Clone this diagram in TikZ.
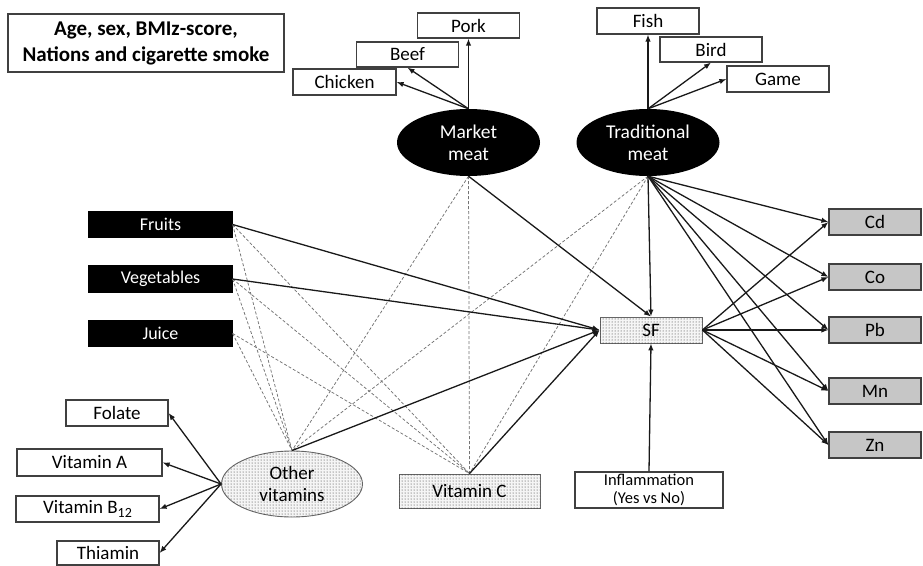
\documentclass[tikz,border=0pt]{standalone}
\usepackage{fontspec}
\setmainfont{Carlito}
\usetikzlibrary{arrows.meta,shapes.geometric,patterns}

\tikzset{
  box/.style={draw=black!75, line width=1.2pt, fill=white, inner sep=0pt,
    minimum width=102pt, minimum height=26pt, align=center,
    font=\fontsize{19}{21}\selectfont},
  blackbox/.style={box, draw=black, fill=black, text=white,
    minimum width=143pt, font=\fontsize{18}{20}\selectfont},
  metalbox/.style={box, fill=gray!45, minimum width=92pt},
  dotfill/.style={fill=gray!8, postaction={pattern=dots, pattern color=black!85}},
  meatnode/.style={ellipse, fill=black, text=white, inner sep=0pt,
    minimum width=143pt, minimum height=67pt, align=center,
    font=\fontsize{19.5}{22}\selectfont},
  vitnode/.style={ellipse, draw=black!60, line width=0.9pt, dotfill, inner sep=0pt,
    minimum width=141pt, minimum height=66pt, align=center,
    font=\fontsize{19}{22}\selectfont},
  link/.style={line width=1.3pt, draw=black!90, -{Latex[length=7pt,width=5.5pt]}},
  assoc/.style={draw=gray!90!black, line width=0.75pt, dash pattern=on 3pt off 2pt},
}

\begin{document}
\begin{tikzpicture}[x=1pt, y=-1pt]
  \useasboundingbox (0,0) rectangle (923,565);

  % covariates
  \node[box, minimum width=276pt, minimum height=58pt,
        font=\fontsize{21}{26}\selectfont\bfseries] (cov) at (146,43)
        {Age, sex, BMIz-score,\\Nations and cigarette smoke};

  % meat groups and their items
  \node[meatnode] (mm) at (468.5,142.5) {Market\\meat};
  \node[meatnode] (tm) at (648,142.5) {Traditional\\meat};
  \node[box, minimum width=103pt] (chicken) at (344.5,82) {Chicken};
  \node[box, minimum height=25pt] (beef) at (407.5,54.5) {Beef};
  \node[box, minimum height=25pt] (pork) at (468.5,25.5) {Pork};
  \node[box] (fish) at (648,21) {Fish};
  \node[box, minimum height=25pt] (bird) at (711,49.5) {Bird};
  \node[box] (game) at (778,79) {Game};

  % plant foods
  \node[blackbox, minimum height=25pt] (fruits) at (160.5,224.5) {Fruits};
  \node[blackbox] (veg) at (160.5,279) {Vegetables};
  \node[blackbox, minimum height=25pt] (juice) at (160.5,333.5) {Juice};

  % vitamins
  \node[vitnode] (ov) at (292,484) {Other\\vitamins};
  \node[box, dotfill, draw=black!60, line width=0.9pt, minimum width=141pt,
        minimum height=34pt] (vc) at (469.5,491) {Vitamin C};
  \node[box, minimum width=102pt] (folate) at (117,413) {Folate};
  \node[box, minimum width=145pt, minimum height=27pt] (vita) at (89.5,462.5) {Vitamin A};
  \node[box, minimum width=143pt] (vitb) at (87.5,509)
        {Vitamin B\raisebox{-0.35ex}{\fontsize{14}{14}\selectfont 12}};
  \node[box, minimum height=24pt] (thiamin) at (108,553) {Thiamin};

  % outcome and inflammation
  \node[box, dotfill, draw=black!60, line width=0.9pt] (sf) at (651,330) {SF};
  \node[box, minimum width=148pt, minimum height=36pt,
        font=\fontsize{16.5}{18}\selectfont] (infl) at (649,490)
        {Inflammation\\(Yes vs No)};

  % metals
  \node[metalbox] (cd) at (875,222) {Cd};
  \node[metalbox] (co) at (875,277) {Co};
  \node[metalbox] (pb) at (875,330) {Pb};
  \node[metalbox] (mn) at (875,391) {Mn};
  \node[metalbox] (zn) at (875,445) {Zn};

  % correlations between exposures
  \foreach \s in {fruits.east, veg.east, juice.east, mm.south, tm.south}
    \foreach \t in {ov.north, vc.north}
      \draw[assoc] (\s) -- (\t);

  % meat components
  \draw[link] (mm.north) -- (chicken.east);
  \draw[link] (mm.north) -- (beef.south);
  \draw[link] (mm.north) -- (pork.south);
  \draw[link] (tm.north) -- (fish.south);
  \draw[link] (tm.north) -- (bird.south);
  \draw[link] (tm.north) -- (game.west);

  % vitamin components
  \draw[link] (ov.west) -- (folate.east);
  \draw[link] (ov.west) -- (vita.east);
  \draw[link] (ov.west) -- (vitb.east);
  \draw[link] (ov.west) -- (thiamin.east);

  % paths into SF
  \draw[link] (fruits.east) -- (sf.west);
  \draw[link] (veg.east) -- (sf.west);
  \draw[link] (ov.north) -- (sf.west);
  \draw[link] (vc.north) -- (sf.west);
  \draw[link] (mm.south) -- (sf.north);
  \draw[link] (tm.south) -- (sf.north);
  \draw[link] (infl.north) -- (sf.south);

  % paths into metals
  \foreach \m in {cd, co, pb, mn, zn} {
    \draw[link] (tm.south) -- (\m.west);
    \draw[link] (sf.east) -- (\m.west);
  }
\end{tikzpicture}
\end{document}
